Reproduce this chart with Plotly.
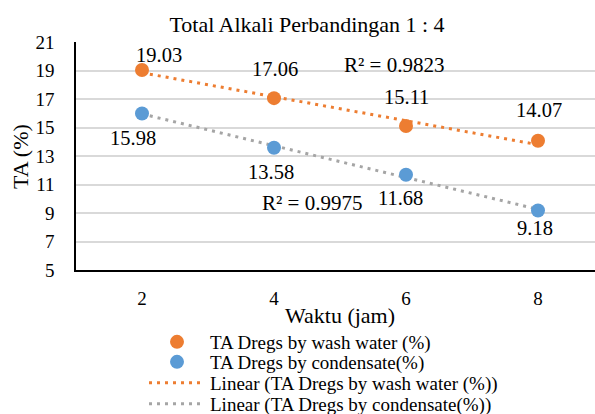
import numpy as np
import plotly.graph_objects as go

# ---- data ----
waktu = [2, 4, 6, 8]
wash_water = [19.03, 17.06, 15.11, 14.07]
condensate = [15.98, 13.58, 11.68, 9.18]
y_ticks = [5, 7, 9, 11, 13, 15, 17, 19, 21]
title_text = "Total Alkali Perbandingan 1 : 4"
name_wash = "TA Dregs by wash water (%)"
name_cond = "TA Dregs by condensate(%)"
x_title = "Waktu (jam)"
y_title = "TA (%)"

# label offsets in px (dx, dy) relative to each point (style only)
wash_label_off = [(17, -15), (1, -29), (0, -29), (1, -31)]
cond_label_off = [(-9, 24), (-3, 24), (-6, 23), (-3, 18)]

ORANGE = "#ED7D31"
BLUE = "#5B9BD5"
GRAY = "#A5A5A5"
FONT = "Liberation Serif, Times New Roman, serif"

W, H = 595, 414
ML, MT, MB, MR = 76, 42, 144, 0
PLOT_W = W - ML - MR
PLOT_H = H - MT - MB


def fit(x, y):
    x = np.asarray(x, float)
    y = np.asarray(y, float)
    m, b = np.polyfit(x, y, 1)
    yhat = m * x + b
    r2 = 1 - np.sum((y - yhat) ** 2) / np.sum((y - y.mean()) ** 2)
    return m, b, r2


def paper_from_px(px, py):
    return (px - ML) / PLOT_W, (H - MB - py) / PLOT_H


mw, bw, r2w = fit(waktu, wash_water)
mc, bc, r2c = fit(waktu, condensate)
xs = np.array([min(waktu), max(waktu)], float)

fig = go.Figure()
fig.add_trace(go.Scatter(x=xs, y=mw * xs + bw, mode="lines",
                         name="Linear (" + name_wash + ")", legend="legend3",
                         line=dict(color=ORANGE, width=3, dash="3px,5px")))
fig.add_trace(go.Scatter(x=xs, y=mc * xs + bc, mode="lines",
                         name="Linear (" + name_cond + ")", legend="legend4",
                         line=dict(color=GRAY, width=3, dash="3px,5px")))
fig.add_trace(go.Scatter(x=waktu, y=wash_water, mode="markers", name=name_wash,
                         legend="legend",
                         marker=dict(color=ORANGE, size=14)))
fig.add_trace(go.Scatter(x=waktu, y=condensate, mode="markers", name=name_cond,
                         legend="legend2",
                         marker=dict(color=BLUE, size=14)))

lab_font = dict(family=FONT, size=20.5, color="#000")
r2_font = dict(family=FONT, size=21, color="#000")
ttl_font = dict(family=FONT, size=22, color="#000")
annotations = []
for x, y, (dx, dy) in zip(waktu, wash_water, wash_label_off):
    annotations.append(dict(x=x, y=y, xref="x", yref="y", text=f"{y:.2f}",
                            showarrow=False, xshift=dx, yshift=-dy, font=lab_font))
for x, y, (dx, dy) in zip(waktu, condensate, cond_label_off):
    annotations.append(dict(x=x, y=y, xref="x", yref="y", text=f"{y:.2f}",
                            showarrow=False, xshift=dx, yshift=-dy, font=lab_font))
annotations.append(dict(x=5.82, y=19.39, xref="x", yref="y",
                        text=f"R² = {r2w:.4f}", showarrow=False, font=r2_font))
annotations.append(dict(x=4.58, y=9.68, xref="x", yref="y",
                        text=f"R² = {r2c:.4f}", showarrow=False, font=r2_font))
ax, ay = paper_from_px(20, 157)
annotations.append(dict(x=ax, y=ay, xref="paper", yref="paper",
                        text=y_title, textangle=-90, showarrow=False,
                        xanchor="center", yanchor="middle", font=ttl_font))
ax, ay = paper_from_px(340, 315)
annotations.append(dict(x=ax, y=ay, xref="paper", yref="paper",
                        text=x_title, showarrow=False,
                        xanchor="center", yanchor="middle", font=ttl_font))

leg_font = dict(family=FONT, size=19, color="#000")
LEG_X = 144 / W
leg_rows = [342, 362, 383, 404]


def leg(row):
    return dict(x=LEG_X, y=1 - leg_rows[row] / H, xref="container", yref="container",
                xanchor="left", yanchor="middle", bgcolor="rgba(0,0,0,0)",
                itemwidth=56, font=leg_font, borderwidth=0)


fig.update_layout(
    width=W, height=H,
    margin=dict(l=ML, r=MR, t=MT, b=MB, pad=0, autoexpand=False),
    paper_bgcolor="white", plot_bgcolor="white",
    font=dict(family=FONT, color="#000"),
    title=dict(text=title_text, x=307 / W, xanchor="center", xref="container",
               y=1 - 24 / H, yanchor="middle", yref="container",
               font=dict(family=FONT, size=22, color="#000")),
    xaxis=dict(range=[1, 1 + PLOT_W / 66], tickvals=waktu,
               showgrid=False, zeroline=False, showline=True,
               linecolor="#000", linewidth=1.5, ticks="",
               ticklabelstandoff=10,
               tickfont=dict(family=FONT, size=19, color="#000")),
    yaxis=dict(range=[5, 21], tickvals=y_ticks, showgrid=True,
               gridcolor="#D9D9D9", gridwidth=1.5, zeroline=False,
               showline=True, linecolor="#000", linewidth=1.5, ticks="",
               ticklabelstandoff=16,
               tickfont=dict(family=FONT, size=19, color="#000")),
    showlegend=True,
    legend=leg(0), legend2=leg(1), legend3=leg(2), legend4=leg(3),
    annotations=annotations,
)

fig.write_html("out.html", config={"displayModeBar": False},
               post_script="document.body.style.margin='0';")
